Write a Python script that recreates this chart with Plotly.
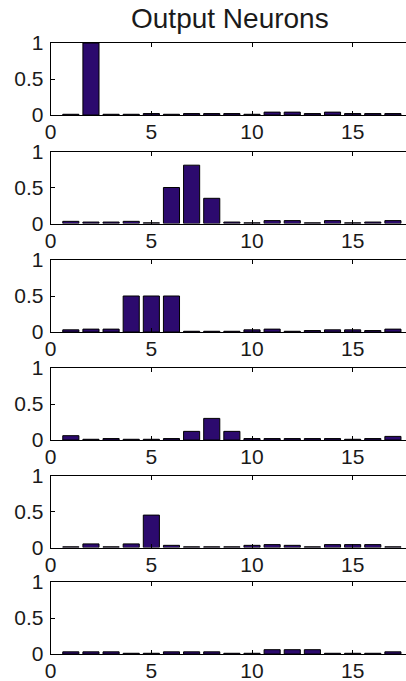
import plotly.graph_objects as go

neurons = list(range(1, 18))
panel1 = [0.01, 1.00, 0.01, 0.01, 0.02, 0.01, 0.02, 0.02, 0.02, 0.01, 0.04, 0.04, 0.02, 0.04, 0.02, 0.02, 0.02]
panel2 = [0.03, 0.02, 0.02, 0.03, 0.01, 0.50, 0.81, 0.35, 0.02, 0.01, 0.04, 0.04, 0.01, 0.04, 0.01, 0.02, 0.04]
panel3 = [0.03, 0.04, 0.04, 0.50, 0.50, 0.50, 0.01, 0.01, 0.01, 0.03, 0.04, 0.01, 0.02, 0.03, 0.03, 0.02, 0.04]
panel4 = [0.06, 0.01, 0.02, 0.01, 0.01, 0.02, 0.12, 0.30, 0.12, 0.02, 0.02, 0.02, 0.02, 0.02, 0.01, 0.02, 0.05]
panel5 = [0.01, 0.05, 0.01, 0.05, 0.45, 0.03, 0.01, 0.01, 0.01, 0.03, 0.04, 0.03, 0.01, 0.04, 0.04, 0.04, 0.01]
panel6 = [0.03, 0.03, 0.03, 0.01, 0.01, 0.03, 0.03, 0.03, 0.01, 0.01, 0.06, 0.06, 0.06, 0.01, 0.01, 0.01, 0.03]
panels = [panel1, panel2, panel3, panel4, panel5, panel6]

x_ticks = [0, 5, 10, 15]
y_ticks = [0, 0.5, 1]
title_text = "Output Neurons"

W, H = 406, 681
bar_color = "#2c0a6e"
font_family = "Arial, Liberation Sans, sans-serif"
text_color = "#1a1a1a"

tops = [43, 151.5, 260, 368, 475.5, 582]
panel_h = 72
left_px = 50.7
px_per_unit = 20.13
x_max = (W - left_px) / px_per_unit
tick_size = 21

fig = go.Figure()
layout = dict(
    width=W, height=H,
    margin=dict(l=0, r=0, t=0, b=0, autoexpand=False),
    paper_bgcolor="white", plot_bgcolor="white",
    showlegend=False,
    font=dict(family=font_family, color=text_color, size=tick_size),
    bargap=0.2,
)

for i, vals in enumerate(panels):
    n = i + 1
    xa = "x" if n == 1 else f"x{n}"
    ya = "y" if n == 1 else f"y{n}"
    fig.add_trace(go.Bar(
        x=neurons, y=vals, xaxis=xa, yaxis=ya,
        marker=dict(color=bar_color, line=dict(color="black", width=1)),
        width=0.8, hoverinfo="x+y",
    ))
    top = tops[i]
    bot = top + panel_h
    xkey = "xaxis" if n == 1 else f"xaxis{n}"
    ykey = "yaxis" if n == 1 else f"yaxis{n}"
    layout[xkey] = dict(
        domain=[left_px / W, 1.0], anchor=ya, range=[0, x_max],
        tickmode="array", tickvals=x_ticks, ticktext=[str(t) for t in x_ticks],
        showline=True, linecolor="black", linewidth=1, mirror="ticks",
        ticks="inside", ticklen=4, tickcolor="black",
        showgrid=False, zeroline=False, automargin=False,
        tickfont=dict(size=tick_size, family=font_family, color=text_color),
        ticklabelstandoff=-2,
    )
    layout[ykey] = dict(
        domain=[1 - bot / H, 1 - top / H], anchor=xa, range=[0, 1],
        tickmode="array", tickvals=y_ticks, ticktext=["0", "0.5", "1"],
        showline=True, linecolor="black", linewidth=1, mirror=False,
        ticks="inside", ticklen=4, tickcolor="black",
        showgrid=False, zeroline=False, automargin=False,
        tickfont=dict(size=tick_size, family=font_family, color=text_color),
        ticklabelstandoff=2,
    )

layout["annotations"] = [dict(
    text=title_text, xref="paper", yref="paper",
    x=230 / W, y=1 - 19 / H, xanchor="center", yanchor="middle",
    showarrow=False, font=dict(size=28, family=font_family, color=text_color),
)]

fig.update_layout(**layout)
fig.write_html(
    "out.html",
    config={"displayModeBar": False},
    post_script="document.body.style.margin='0px';document.body.style.overflow='hidden';",
)
